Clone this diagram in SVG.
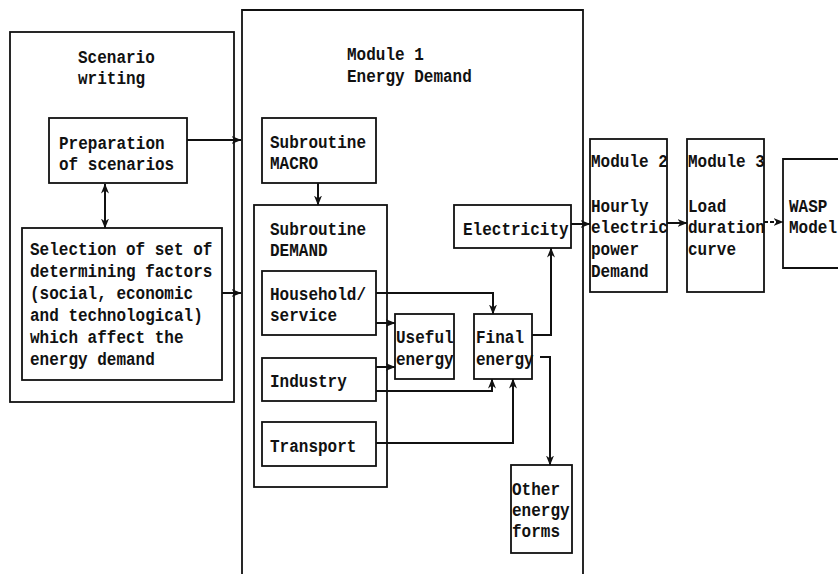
<svg xmlns="http://www.w3.org/2000/svg" width="838" height="574" viewBox="0 0 838 574">
<style>
.box{fill:none;stroke:#111;stroke-width:1.8}
.t{font-family:"Liberation Mono","DejaVu Sans Mono",monospace;font-size:16px;font-weight:bold;fill:#111}
.c{fill:none;stroke:#111;stroke-width:2}
.d{stroke-dasharray:4 2}
</style>
<defs>
<marker id="ah" viewBox="0 0 10 10" refX="9.5" refY="5" markerWidth="10" markerHeight="10" orient="auto-start-reverse" markerUnits="userSpaceOnUse">
<path d="M0,1 L10,5 L0,9 L3,5 z" fill="#111"/>
</marker>
</defs>
<rect width="838" height="574" fill="#fff"/>

<g id="scenario">
<rect class="box" x="10" y="32" width="224" height="370"/>
<text class="t" transform="translate(78,63) scale(1,1.15)"><tspan x="0" y="0">Scenario</tspan><tspan x="0" dy="18.3">writing</tspan></text>
</g>
<g id="preparation">
<rect class="box" x="49" y="118" width="138" height="65"/>
<text class="t" transform="translate(59,149) scale(1,1.15)"><tspan x="0" y="0">Preparation</tspan><tspan x="0" dy="18.3">of scenarios</tspan></text>
</g>
<g id="selection">
<rect class="box" x="22" y="228" width="200" height="152"/>
<text class="t" transform="translate(30,255) scale(1,1.15)"><tspan x="0" y="0">Selection of set of</tspan><tspan x="0" dy="19.13">determining factors</tspan><tspan x="0" dy="19.13">(social, economic</tspan><tspan x="0" dy="19.13">and technological)</tspan><tspan x="0" dy="19.13">which affect the</tspan><tspan x="0" dy="19.13">energy demand</tspan></text>
</g>

<g id="module1">
<path class="box" d="M242,578 V10 H583 V578"/>
<text class="t" transform="translate(347,60) scale(1,1.15)"><tspan x="0" y="0">Module 1</tspan><tspan x="0" dy="19.13">Energy Demand</tspan></text>
</g>
<g id="macro">
<rect class="box" x="262" y="118" width="114" height="65"/>
<text class="t" transform="translate(270,148) scale(1,1.15)"><tspan x="0" y="0">Subroutine</tspan><tspan x="0" dy="18.3">MACRO</tspan></text>
</g>
<g id="demand">
<rect class="box" x="254" y="205" width="133" height="282"/>
<text class="t" transform="translate(270,235) scale(1,1.15)"><tspan x="0" y="0">Subroutine</tspan><tspan x="0" dy="18.3">DEMAND</tspan></text>
</g>
<g id="household">
<rect class="box" x="262" y="271" width="114" height="64"/>
<text class="t" transform="translate(270,300) scale(1,1.15)"><tspan x="0" y="0">Household/</tspan><tspan x="0" dy="18.3">service</tspan></text>
</g>
<g id="industry">
<rect class="box" x="262" y="358" width="114" height="43"/>
<text class="t" transform="translate(270,387) scale(1,1.15)">Industry</text>
</g>
<g id="transport">
<rect class="box" x="262" y="422" width="114" height="44"/>
<text class="t" transform="translate(270,452) scale(1,1.15)">Transport</text>
</g>
<g id="useful">
<rect class="box" x="395" y="314" width="59" height="65"/>
<text class="t" transform="translate(396,343) scale(1,1.15)"><tspan x="0" y="0">Useful</tspan><tspan x="0" dy="19.13">energy</tspan></text>
</g>
<g id="final">
<rect class="box" x="474" y="314" width="58" height="65"/>
<text class="t" transform="translate(476,343) scale(1,1.15)"><tspan x="0" y="0">Final</tspan><tspan x="0" dy="19.13">energy</tspan></text>
</g>
<g id="electricity">
<rect class="box" x="454" y="205" width="117" height="43"/>
<text class="t" transform="translate(463,235) scale(1,1.15)">Electricity</text>
</g>
<g id="other">
<rect class="box" x="511" y="465" width="61" height="88"/>
<text class="t" transform="translate(512,495) scale(1,1.15)"><tspan x="0" y="0">Other</tspan><tspan x="0" dy="18.3">energy</tspan><tspan x="0" dy="18.3">forms</tspan></text>
</g>
<g id="module2">
<rect class="box" x="590" y="139" width="77" height="153"/>
<text class="t" transform="translate(591,167) scale(1,1.15)"><tspan x="0" y="0">Module 2</tspan><tspan x="0" dy="39.1">Hourly</tspan><tspan x="0" dy="18.3">electric</tspan><tspan x="0" dy="19.13">power</tspan><tspan x="0" dy="19.13">Demand</tspan></text>
</g>
<g id="module3">
<rect class="box" x="687" y="139" width="77" height="153"/>
<text class="t" transform="translate(688,167) scale(1,1.15)"><tspan x="0" y="0">Module 3</tspan><tspan x="0" dy="39.1">Load</tspan><tspan x="0" dy="18.3">duration</tspan><tspan x="0" dy="19.13">curve</tspan></text>
</g>
<g id="wasp">
<path class="box" d="M842,159 H783 V268 H842"/>
<text class="t" transform="translate(789,212) scale(1,1.15)"><tspan x="0" y="0">WASP</tspan><tspan x="0" dy="18.3">Model</tspan></text>
</g>

<g id="connectors">
<path class="c" d="M187,140 H241" marker-end="url(#ah)"/>
<path class="c" d="M222,293 H241" marker-end="url(#ah)"/>
<path class="c" d="M105,184 V228" marker-start="url(#ah)" marker-end="url(#ah)"/>
<path class="c" d="M318,183 V205" marker-end="url(#ah)"/>
<path class="c" d="M376,293 H493 V314" marker-end="url(#ah)"/>
<path class="c" d="M376,323 H395" marker-end="url(#ah)"/>
<path class="c" d="M376,367 H395" marker-end="url(#ah)"/>
<path class="c" d="M376,391 H492 V379" marker-end="url(#ah)"/>
<path class="c" d="M376,443 H513 V379" marker-end="url(#ah)"/>
<path class="c" d="M532,335 H551 V248" marker-end="url(#ah)"/>
<path class="c" d="M540,357 H550 V465" marker-end="url(#ah)"/>
<path class="c" d="M571,224 H590" marker-end="url(#ah)"/>
<path class="c" d="M667,223 H687" marker-end="url(#ah)"/>
<path class="c d" d="M764,222 H783" marker-end="url(#ah)"/>
</g>
</svg>
